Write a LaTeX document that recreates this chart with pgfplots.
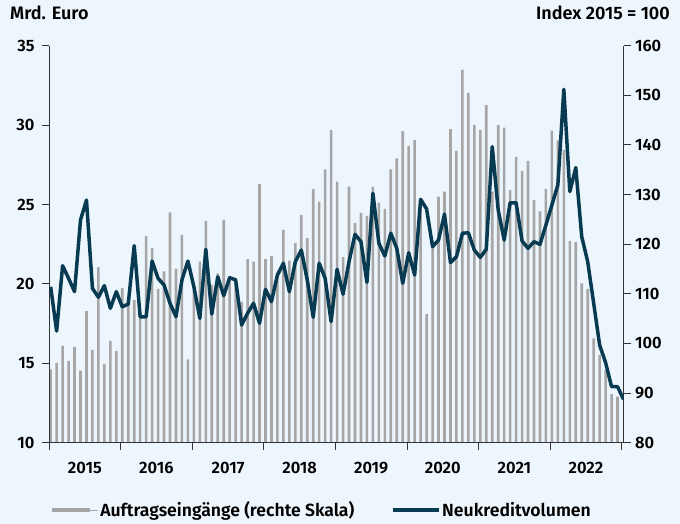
\documentclass[border=0pt]{standalone}
\usepackage{pgfplots}
\pgfplotsset{compat=1.18}
\usepackage{pgfplotstable}
\usepackage{fontspec}
\setmainfont{Fira Sans}[UprightFont={* SemiBold}]
\definecolor{bgcol}{RGB}{238,246,253}
\definecolor{barcol}{RGB}{166,166,166}
\definecolor{linecol}{RGB}{8,58,82}
\definecolor{axiscol}{RGB}{51,51,51}

\pgfplotstableread{
i v
0 94.8
1 96.1
2 99.5
3 96.5
4 99.3
5 94.5
6 106.5
7 98.7
8 115.4
9 95.9
10 100.5
11 98.5
12 111.2
13 108.8
14 108.8
15 105.1
16 121.7
17 119.2
18 111.0
19 114.5
20 126.4
21 115.1
22 121.9
23 96.8
24 110.8
25 116.5
26 124.7
27 111.8
28 114.1
29 124.9
30 113.5
31 113.2
32 108.4
33 117.0
34 116.5
35 132.1
36 117.0
37 117.6
38 114.2
39 122.9
40 116.7
41 120.2
42 125.9
43 121.2
44 131.1
45 128.6
46 135.1
47 143.0
48 132.6
49 117.4
50 131.6
51 124.3
52 126.3
53 125.7
54 131.6
55 128.4
56 127.1
57 135.1
58 137.3
59 142.8
60 139.8
61 141.0
62 127.9
63 105.9
64 120.8
65 129.6
66 130.6
67 143.2
68 138.8
69 155.2
70 150.5
71 144.0
72 143.0
73 148.0
74 130.6
75 144.0
76 143.5
77 130.9
78 137.6
79 134.8
80 136.8
81 128.9
82 126.6
83 131.1
84 142.9
85 140.9
86 139.0
87 120.6
88 120.4
89 112.1
90 111.0
91 101.0
92 97.7
93 94.6
94 89.8
95 89.3
}\bars

\pgfplotstableread{
i v
0 19.82
1 17.03
2 21.15
3 20.35
4 19.51
5 24.02
6 25.28
7 19.72
8 19.16
9 19.89
10 18.46
11 19.51
12 18.56
13 18.73
14 22.41
15 17.92
16 17.93
17 21.44
18 20.35
19 19.93
20 18.78
21 17.93
22 20.25
23 21.44
24 19.82
25 17.83
26 22.18
27 18.10
28 20.45
29 19.26
30 20.39
31 20.25
32 17.41
33 18.15
34 18.78
35 17.52
36 19.66
37 18.88
38 20.56
39 21.30
40 19.51
41 21.40
42 22.13
43 20.25
44 17.90
45 21.30
46 20.35
47 17.62
48 20.92
49 19.35
50 21.40
51 23.12
52 22.66
53 20.10
54 25.71
55 22.56
56 21.76
57 23.19
58 22.24
59 20.04
60 21.96
61 20.56
62 25.33
63 24.72
64 22.34
65 22.76
66 24.40
67 21.34
68 21.71
69 23.19
70 23.22
71 22.13
72 21.67
73 22.18
74 28.64
75 24.65
76 22.76
77 25.11
78 25.11
79 22.70
80 22.24
81 22.66
82 22.49
83 23.71
84 24.97
85 26.23
86 32.25
87 25.81
88 27.32
89 22.97
90 21.40
91 18.78
92 16.15
93 15.04
94 13.53
95 13.53
96 12.73
}\credit

\begin{document}
\begin{tikzpicture}[font=\fontsize{18bp}{21bp}\selectfont]
\fill[bgcol] (0,0) rectangle (680bp,524bp);
\useasboundingbox (0,0) rectangle (680bp,524bp);
\node[anchor=base west, inner sep=0pt] at (10bp,504bp) {Mrd. Euro};
\node[anchor=base east, inner sep=0pt] at (670bp,504bp) {Index 2015 = 100};

\pgfplotsset{
  base/.style={at={(49bp,81.3bp)}, anchor=south west, scale only axis,
    width=574.5bp, height=397bp, xmin=-0.28, xmax=96,
    tick align=outside, major tick length=7bp,
    tick style={color=axiscol, line width=1bp},
    axis line style={axiscol, line width=1bp},
    /pgf/number format/assume math mode=true,
    ticklabel style={font=\fontsize{16.5bp}{19bp}\selectfont}},
}

% grid
\begin{axis}[base, ymin=10, ymax=35, axis lines=none,
  ytick={15,20,25,30,35}, ymajorgrids, xtick=\empty,
  grid style={white, line width=1.4bp}]
\end{axis}

% bars, right scale
\begin{axis}[base, ymin=80, ymax=160, axis x line=none, axis y line*=right,
  ytick={80,90,...,160}, yticklabel style={xshift=1bp}]
\addplot[ybar, bar width=2.6bp, fill=barcol, draw=none] table[x=i, y=v] {\bars};
\end{axis}

% line, left scale
\begin{axis}[base, ymin=10, ymax=35, axis x line*=bottom, axis y line*=left,
  ytick={10,15,...,35}, yticklabel style={xshift=-4bp},
  xtick={-0.28,11.72,23.72,35.72,47.72,59.72,71.72,83.72,95.72}, xticklabels={},
  extra x ticks={5.72,17.72,29.72,41.72,53.72,65.72,77.72,89.72},
  extra x tick labels={2015,2016,2017,2018,2019,2020,2021,2022},
  extra x tick style={major tick length=0pt, xticklabel style={yshift=-16bp}},
  legend style={at={(0.474,-0.17)}, anchor=center, draw=none, fill=none,
    legend columns=2, font=\fontsize{17.6bp}{20bp}\selectfont,
    /tikz/every even column/.append style={column sep=34bp}},
  legend image code/.code={\path (0bp,0bp) -- (46bp,0bp);\draw[#1, line width=4.5bp] (0bp,0bp) -- (38bp,0bp);},
  legend cell align=left]
\addlegendimage{color=barcol}
\addlegendentry{Auftragseingänge (rechte Skala)}
\addplot[color=linecol, line width=3.5bp, line join=round, mark=none] table[x=i, y=v] {\credit};
\addlegendentry{Neukreditvolumen}
\end{axis}
\end{tikzpicture}
\end{document}
